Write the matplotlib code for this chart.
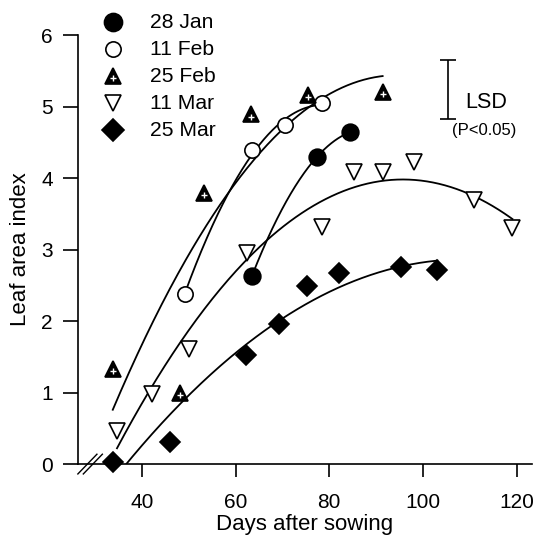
import numpy as np
import matplotlib
matplotlib.use('Agg')
from matplotlib import pyplot as plt

plt.rcParams['font.family'] = ['Liberation Sans', 'DejaVu Sans']

# sowing dates (legend labels)
labels = ['28 Jan', '11 Feb', '25 Feb', '11 Mar', '25 Mar']

# days after sowing / leaf area index
jan28_day = [63.5, 77.3, 84.4]
jan28_lai = [2.63, 4.29, 4.64]

feb11_day = [49.2, 63.5, 70.5, 78.4]
feb11_lai = [2.38, 4.39, 4.74, 5.05]

feb25_day = [33.8, 48.1, 53.2, 63.4, 75.4, 91.4]
feb25_lai = [1.33, 0.99, 3.79, 4.89, 5.16, 5.20]

mar11_day = [34.7, 42.1, 50.0, 62.4, 78.4, 85.2, 91.4, 98.2, 111.0, 119.1]
mar11_lai = [0.46, 0.98, 1.61, 2.95, 3.31, 4.08, 4.08, 4.22, 3.69, 3.30]

mar25_day = [33.8, 46.0, 62.2, 69.2, 75.2, 82.0, 95.3, 103.1]
mar25_lai = [0.03, 0.31, 1.52, 1.96, 2.49, 2.67, 2.76, 2.71]

lsd = 0.82

fig = plt.figure(figsize=(5.37, 5.39), dpi=100)
ax = fig.add_axes([0.145, 0.139, 0.845, 0.796])

series = [(jan28_day, jan28_lai), (feb11_day, feb11_lai), (feb25_day, feb25_lai),
          (mar11_day, mar11_lai), (mar25_day, mar25_lai)]

# quadratic trend lines
for d, v in series:
    c = np.polyfit(d, v, 2)
    xx = np.linspace(min(d), max(d), 200)
    ax.plot(xx, np.polyval(c, xx), color='k', lw=1.3, zorder=2)

styles = [
    dict(marker='o', ms=12, mfc='k', mec='k', mew=1.2),
    dict(marker='o', ms=11, mfc='w', mec='k', mew=1.2),
    dict(marker='^', ms=11, mfc='k', mec='k', mew=1.2),
    dict(marker='v', ms=11, mfc='w', mec='k', mew=1.2),
    dict(marker='D', ms=10, mfc='k', mec='k', mew=1.2),
]

for i, (d, v) in enumerate(series):
    ax.plot(d, v, ls='none', clip_on=False, zorder=3, **styles[i])
    if i == 2:
        ax.plot(d, np.array(v) - 0.03, ls='none', marker='+', ms=4, mew=1.0,
                color='w', clip_on=False, zorder=4)

# legend drawn by hand
for i, lab in enumerate(labels):
    y = 1.03 - i * 0.063
    st = dict(styles[i])
    if i in (0, 4):
        st['ms'] += 1
    ax.plot([0.077], [y], ls='none', transform=ax.transAxes, clip_on=False, **st)
    if i == 2:
        ax.plot([0.077], [y - 0.005], ls='none', marker='+', ms=4, mew=1.0, color='w',
                transform=ax.transAxes, clip_on=False)
    ax.text(0.159, y, lab, transform=ax.transAxes, fontsize=15.2, va='center', ha='left')

# LSD bar
ax.errorbar([105.3], [5.24], yerr=[lsd / 2], color='k', lw=1.2, capsize=6, capthick=1.2)
ax.text(109.0, 5.06, 'LSD', fontsize=15.5, va='center', ha='left')
ax.text(106.3, 4.66, '(P<0.05)', fontsize=12, va='center', ha='left')

ax.set_xlim(26.35, 123.2)
ax.set_ylim(0, 6)
ax.set_xticks([40, 60, 80, 100, 120])
ax.set_yticks([0, 1, 2, 3, 4, 5, 6])
ax.spines['top'].set_visible(False)
ax.spines['right'].set_visible(False)
ax.spines['left'].set_linewidth(1.2)
ax.spines['bottom'].set_linewidth(1.2)
ax.tick_params(axis='y', direction='out', length=11, width=1.2, pad=7, labelsize=15)
ax.tick_params(axis='x', direction='out', length=9, width=1.2, pad=12, labelsize=15)

# axis break marks
for dx in (0.0, 0.012):
    ax.plot([0.0 + dx, 0.042 + dx], [-0.023, 0.023], color='k', lw=1.0,
            transform=ax.transAxes, clip_on=False)

ax.set_xlabel('Days after sowing', fontsize=16, labelpad=1)
ax.set_ylabel('Leaf area index', fontsize=16, labelpad=7)

fig.savefig('out.png', dpi=100)
